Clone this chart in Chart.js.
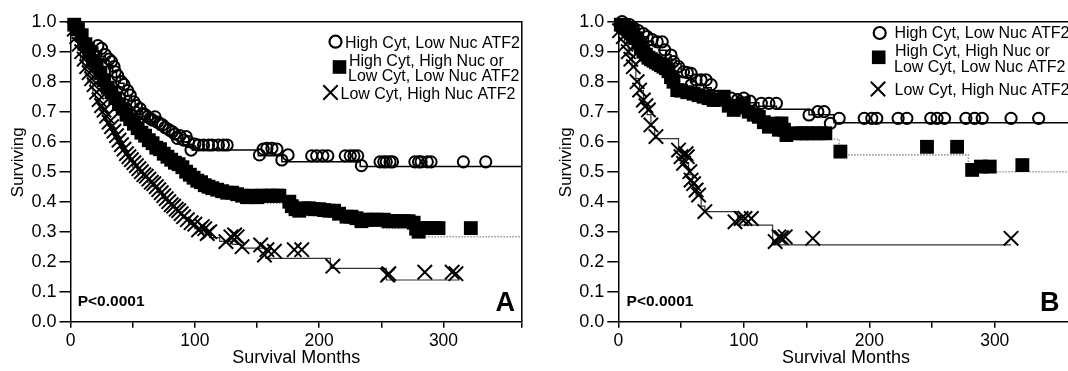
<!DOCTYPE html>
<html><head><meta charset="utf-8">
<script src="https://cdn.jsdelivr.net/npm/chart.js@4.4.1/dist/chart.umd.min.js"></script>
<style>
html,body{margin:0;padding:0;background:#fff;overflow:hidden;width:1068px;height:371px;}
#wa{position:absolute;left:0;top:0;width:534px;height:371px;}
#wb{position:absolute;left:534px;top:0;width:552px;height:371px;}
</style></head><body>
<div id="wa"><canvas id="ca"></canvas></div>
<div id="wb"><canvas id="cb"></canvas></div>
<script>
// ---------- DATA ----------
const X_TICK_LABELS = [0, 100, 200, 300];
const Y_TICK_LABELS = ['0.0','0.1','0.2','0.3','0.4','0.5','0.6','0.7','0.8','0.9','1.0'];
const LEGEND_LABELS = [['High Cyt, Low Nuc ATF2'], ['High Cyt, High Nuc or', 'Low Cyt, Low Nuc ATF2'], ['Low Cyt, High Nuc ATF2']];
const P_TEXT = 'P<0.0001';
const PANEL_LETTERS = ['A', 'B'];
const X_MAX = 363;

// Panel A - High Cyt, Low Nuc (circles): step curve
const A1_t = [0,2,4,6,8,10,13,16,19,22,25,28,31,34,37,40,43,46,49,52,55,58,61,64,67,70,74,78,82,86,90,94,98,151,170,233,363];
const A1_s = [1.0,0.99,0.98,0.97,0.96,0.95,0.94,0.93,0.915,0.9,0.885,0.87,0.855,0.835,0.815,0.795,0.775,0.755,0.735,0.715,0.70,0.685,0.672,0.66,0.65,0.64,0.63,0.62,0.61,0.60,0.59,0.583,0.572,0.553,0.533,0.517,0.517];
// censored (circles)
const A1c_t = [22,25,28,31,33,35,36,38,41,43,46,48,51,53,56,58,60,62,64,66,68,70,72,74,76,79,82,84,86,88,91,93,95,97,100,103,107,111,114,119,123,126,152,155,158,162,166,170,175,194,198,203,207,221,225,228,231,234,249,252,254,257,259,277,280,282,287,290,316,334];
const A1c_s = [0.92,0.911,0.89,0.875,0.867,0.85,0.833,0.82,0.80,0.79,0.77,0.755,0.733,0.72,0.71,0.694,0.69,0.683,0.678,0.672,0.683,0.665,0.66,0.656,0.648,0.64,0.633,0.625,0.611,0.62,0.605,0.617,0.60,0.572,0.592,0.589,0.589,0.589,0.589,0.589,0.589,0.589,0.556,0.575,0.578,0.578,0.575,0.539,0.556,0.553,0.553,0.553,0.553,0.553,0.553,0.553,0.553,0.52,0.533,0.533,0.533,0.533,0.533,0.533,0.533,0.533,0.533,0.533,0.533,0.533];

// Panel A - High Cyt, High Nuc or Low Cyt, Low Nuc (squares)
const A2_t = [0,4,8,12,16,20,24,28,32,36,40,44,48,52,56,60,64,68,72,76,80,84,88,92,96,100,104,108,114,122,132,142,150,174,180,186,214,226,236,250,280,363];
const A2_s = [1,0.97,0.94,0.905,0.87,0.84,0.81,0.78,0.75,0.725,0.70,0.675,0.655,0.635,0.615,0.60,0.585,0.57,0.555,0.54,0.525,0.51,0.50,0.485,0.47,0.455,0.445,0.435,0.425,0.415,0.405,0.40,0.395,0.38,0.365,0.355,0.345,0.33,0.325,0.311,0.283,0.283];
const A2c_t = [3,6,9,12,15,18,21,24,27,30,33,36,39,42,45,48,51,54,57,60,63,66,69,72,75,78,81,84,87,90,93,96,99,102,105,108,111,114,118,122,126,130,134,138,142,146,150,154,158,162,166,168,176,178,181,184,188,192,196,200,204,208,212,216,222,226,230,234,238,242,246,252,256,260,264,268,272,276,278,280,284,288,292,296,322];
const A2c_s = [0.99,0.975,0.955,0.925,0.9,0.87,0.855,0.83,0.805,0.78,0.765,0.745,0.725,0.71,0.69,0.675,0.66,0.645,0.63,0.62,0.605,0.595,0.58,0.575,0.56,0.55,0.54,0.53,0.525,0.515,0.5,0.49,0.48,0.47,0.465,0.455,0.45,0.445,0.44,0.435,0.43,0.43,0.425,0.42,0.415,0.42,0.415,0.42,0.42,0.42,0.42,0.42,0.40,0.385,0.375,0.37,0.378,0.378,0.375,0.375,0.372,0.37,0.37,0.36,0.35,0.35,0.345,0.335,0.34,0.34,0.34,0.34,0.335,0.335,0.335,0.335,0.335,0.33,0.31,0.30,0.312,0.312,0.312,0.312,0.312];

// Panel A - Low Cyt, High Nuc (crosses)
const A3_t = [0,2,4,6,8,10,12,14,16,18,20,23,26,29,32,35,38,41,44,47,50,54,58,62,66,70,74,78,82,86,90,95,100,106,112,120,130,138,157,209,254,313];
const A3_s = [1,0.965,0.935,0.905,0.875,0.85,0.825,0.80,0.78,0.76,0.74,0.71,0.685,0.66,0.64,0.615,0.595,0.575,0.555,0.535,0.515,0.495,0.48,0.465,0.45,0.43,0.41,0.395,0.38,0.365,0.345,0.325,0.31,0.295,0.28,0.268,0.258,0.245,0.211,0.178,0.139,0.139];
const A3c_t = [3,5,7,9,11,13,15,17,19,21,23,25,27,29,31,33,35,37,39,41,43,45,47,49,51,53,55,57,59,61,63,65,67,69,71,73,75,77,79,81,83,85,87,89,91,94,97,100,103,106,108,110,112,125,129,132,134,138,153,156,158,164,180,186,211,255,256,285,307,310];
const A3c_s = [0.975,0.95,0.925,0.9,0.875,0.85,0.83,0.81,0.79,0.765,0.74,0.72,0.705,0.685,0.665,0.65,0.635,0.62,0.605,0.59,0.575,0.56,0.55,0.54,0.53,0.52,0.51,0.50,0.49,0.485,0.475,0.465,0.46,0.45,0.44,0.43,0.42,0.41,0.40,0.39,0.385,0.375,0.37,0.36,0.35,0.34,0.33,0.325,0.306,0.317,0.31,0.294,0.30,0.267,0.283,0.289,0.283,0.25,0.256,0.222,0.24,0.235,0.24,0.24,0.185,0.155,0.16,0.165,0.165,0.16];

// Panel B - High Cyt, Low Nuc (circles)
const B1_t = [0,4,8,12,16,20,24,28,33,38,42,46,50,54,58,62,68,74,80,88,96,112,126,152,172,363];
const B1_s = [1,0.99,0.98,0.97,0.96,0.95,0.935,0.92,0.905,0.89,0.875,0.86,0.84,0.82,0.80,0.79,0.78,0.77,0.75,0.74,0.73,0.718,0.708,0.69,0.663,0.663];
const B1c_t = [3,6,9,12,16,20,23,27,31,35,37,42,44,48,52,55,58,58,62,66,70,74,79,85,90,95,100,105,114,120,126,152,159,164,169,176,196,202,206,223,230,249,254,260,277,284,290,313,335];
const B1c_s = [1.0,0.99,0.99,0.98,0.97,0.96,0.95,0.94,0.933,0.933,0.906,0.889,0.867,0.85,0.833,0.83,0.828,0.789,0.806,0.806,0.806,0.79,0.75,0.739,0.745,0.74,0.745,0.735,0.728,0.728,0.728,0.689,0.70,0.70,0.661,0.678,0.678,0.678,0.678,0.678,0.678,0.678,0.678,0.678,0.678,0.678,0.678,0.678,0.678];

// Panel B - squares
const B2_t = [0,4,8,12,16,20,24,28,32,38,44,47,68,76,84,92,108,116,128,134,176,279,363];
const B2_s = [1,0.99,0.975,0.955,0.93,0.90,0.88,0.865,0.855,0.84,0.80,0.755,0.735,0.725,0.72,0.69,0.67,0.64,0.62,0.608,0.556,0.50,0.50];
const B2c_t = [2,4,6,8,10,12,14,16,18,20,22,24,26,28,30,32,34,36,38,40,42,44,47,50,55,60,64,68,72,76,80,84,88,92,96,100,104,108,112,116,120,124,128,130,132,134,142,146,150,155,160,165,177,246,270,282,289,296,322];
const B2c_s = [0.99,0.985,0.98,0.975,0.965,0.955,0.945,0.93,0.915,0.90,0.89,0.88,0.875,0.87,0.865,0.86,0.855,0.85,0.845,0.835,0.815,0.80,0.772,0.77,0.765,0.76,0.755,0.75,0.745,0.739,0.74,0.75,0.72,0.706,0.715,0.728,0.70,0.69,0.683,0.665,0.65,0.66,0.64,0.661,0.64,0.622,0.628,0.628,0.628,0.628,0.628,0.628,0.567,0.583,0.583,0.506,0.517,0.517,0.522];

// Panel B - crosses
const B3_t = [0,2,5,8,11,14,17,20,23,26,29,48,52,56,59,62,66,69,95,123,313];
const B3_s = [1,0.97,0.93,0.89,0.85,0.81,0.77,0.73,0.69,0.65,0.61,0.57,0.53,0.49,0.455,0.42,0.385,0.367,0.322,0.256,0.256];
const B3c_t = [1,4,6,8,10,12,15,17,20,22,24,26,30,48,50,52,54,55,57,58,60,62,64,69,93,98,101,106,125,128,130,133,155,313];
const B3c_s = [0.97,0.95,0.925,0.90,0.875,0.85,0.80,0.772,0.739,0.72,0.706,0.656,0.617,0.572,0.55,0.528,0.56,0.55,0.50,0.472,0.46,0.439,0.422,0.367,0.333,0.344,0.344,0.344,0.267,0.283,0.28,0.283,0.278,0.278];

// ---------- STYLE / HELPERS ----------
const FONT = "'Liberation Sans', Arial, Helvetica, sans-serif";
Chart.defaults.font.family = FONT;
Chart.defaults.color = '#000';
const pts = (t, s) => t.map((x, i) => ({x: x, y: s[i]}));

const STY = {
  c: {pointStyle: 'circle', pointRadius: 5.6, borderWidth: 2, borderColor: '#000', backgroundColor: 'rgba(255,255,255,0)'},
  r: {pointStyle: 'rect', pointRadius: 9.8, borderWidth: 0, borderColor: '#000', backgroundColor: '#000'},
  x: {pointStyle: 'crossRot', pointRadius: 10.2, borderWidth: 2, borderColor: '#000', backgroundColor: '#000'}
};

function lineDs(t, s, color, width, dash) {
  return {type: 'line', data: pts(t, s), showLine: true, stepped: 'before', borderColor: color,
    borderWidth: width, borderDash: dash || [], pointRadius: 0, fill: false, tension: 0, order: 5};
}
function markDs(t, s, st) {
  return Object.assign({type: 'scatter', data: pts(t, s), showLine: false, clip: false, order: 1,
    pointHoverRadius: 0}, STY[st]);
}

function drawMarker(ctx, kind, x, y) {
  ctx.save();
  if (kind === 'c') {
    ctx.beginPath(); ctx.arc(x, y, 6, 0, Math.PI * 2); ctx.lineWidth = 2.2; ctx.strokeStyle = '#000'; ctx.stroke();
  } else if (kind === 'r') {
    ctx.fillStyle = '#000'; ctx.fillRect(x - 6.8, y - 6.8, 13.6, 13.6);
  } else {
    const d = 7.2; ctx.beginPath(); ctx.moveTo(x - d, y - d); ctx.lineTo(x + d, y + d);
    ctx.moveTo(x + d, y - d); ctx.lineTo(x - d, y + d); ctx.lineWidth = 2; ctx.strokeStyle = '#000'; ctx.stroke();
  }
  ctx.restore();
}

const decor = {
  id: 'decor',
  afterDraw(chart, args, o) {
    const ctx = chart.ctx, a = chart.chartArea;
    ctx.save();
    ctx.strokeStyle = '#000'; ctx.lineWidth = 1.5;
    ctx.beginPath(); ctx.moveTo(a.left, a.top); ctx.lineTo(a.right, a.top); ctx.lineTo(a.right, a.bottom); ctx.stroke();
    ctx.fillStyle = '#000'; ctx.textBaseline = 'alphabetic'; ctx.textAlign = 'left';
    ctx.font = 'bold 15.5px ' + FONT; ctx.fillText(P_TEXT, o.pX, o.pY);
    ctx.font = 'bold 27px ' + FONT; ctx.fillText(o.letter, o.lX, o.lY);
    const L = o.leg;
    drawMarker(ctx, 'c', L.m[0][0], L.m[0][1]);
    drawMarker(ctx, 'r', L.m[1][0], L.m[1][1]);
    drawMarker(ctx, 'x', L.m[2][0], L.m[2][1]);
    ctx.font = '16px ' + FONT; ctx.fillStyle = '#000';
    const lines = [LEGEND_LABELS[0][0], LEGEND_LABELS[1][0], LEGEND_LABELS[1][1], LEGEND_LABELS[2][0]];
    lines.forEach((txt, i) => ctx.fillText(txt, L.t[i][0], L.t[i][1]));
    ctx.restore();
  }
};

function makeChart(id, sets, yw, padR, yTitlePad, deco) {
  return new Chart(document.getElementById(id), {
    type: 'scatter',
    data: {datasets: sets},
    options: {
      responsive: true, maintainAspectRatio: false, animation: false, devicePixelRatio: 1,
      layout: {padding: {top: 21.7, right: padR, left: 0, bottom: 0}},
      plugins: {legend: {display: false}, tooltip: {enabled: false}, decor: deco},
      events: [],
      scales: {
        x: {
          type: 'linear', min: 0, max: X_MAX,
          afterFit: s => { s.height = 49.3; },
          ticks: {stepSize: 50, autoSkip: false, maxRotation: 0, padding: 3, font: {size: 17.5},
            callback: v => (X_TICK_LABELS.indexOf(v) >= 0 ? String(v) : '')},
          grid: {display: true, drawOnChartArea: false, drawTicks: true, tickLength: 6, color: '#000', lineWidth: 1.5},
          border: {display: true, color: '#000', width: 1.5},
          title: {display: true, text: 'Survival Months', font: {size: 18}, padding: {top: 0, bottom: 2}}
        },
        y: {
          min: 0, max: 1,
          afterFit: s => { s.width = yw; },
          ticks: {stepSize: 0.1, autoSkip: false, padding: 3, font: {size: 18},
            callback: (v) => Y_TICK_LABELS[Math.round(v * 10)]},
          grid: {display: true, drawOnChartArea: false, drawTicks: true, tickLength: 11, color: '#000', lineWidth: 1.5},
          border: {display: true, color: '#000', width: 1.5},
          title: {display: true, text: '    Surviving', font: {size: 17}, padding: {top: yTitlePad, bottom: 0}}
        }
      }
    },
    plugins: [decor]
  });
}

makeChart('ca', [
  markDs(A1c_t, A1c_s, 'c'), markDs(A2c_t, A2c_s, 'r'), markDs(A3c_t, A3c_s, 'x'),
  lineDs(A1_t, A1_s, '#000', 1.5), lineDs(A2_t, A2_s, '#9a9a9a', 1.6, [1.5, 1.5]), lineDs(A3_t, A3_s, '#333', 1.2)
], 70.5, 7.3, 8.5, {
  pX: 77.7, pY: 306, letter: PANEL_LETTERS[0], lX: 495.6, lY: 311,
  leg: {m: [[335.5, 41.7], [339.5, 67], [330.5, 92.5]],
        t: [[345, 47.7], [349, 66], [348, 81], [340.5, 98.5]]}
});

makeChart('cb', [
  markDs(B1c_t, B1c_s, 'c'), markDs(B2c_t, B2c_s, 'r'), markDs(B3c_t, B3c_s, 'x'),
  lineDs(B1_t, B1_s, '#000', 1.5), lineDs(B2_t, B2_s, '#9a9a9a', 1.6, [1.5, 1.5]), lineDs(B3_t, B3_s, '#333', 1.2)
], 84.3, 7.8, 22.2, {
  pX: 92.6, pY: 306, letter: PANEL_LETTERS[1], lX: 506, lY: 311,
  leg: {m: [[345.7, 33], [344.7, 57.3], [344, 89]],
        t: [[360.5, 38.3], [361, 56], [360, 71.7], [360.5, 95]]}
});
</script>
</body></html>
